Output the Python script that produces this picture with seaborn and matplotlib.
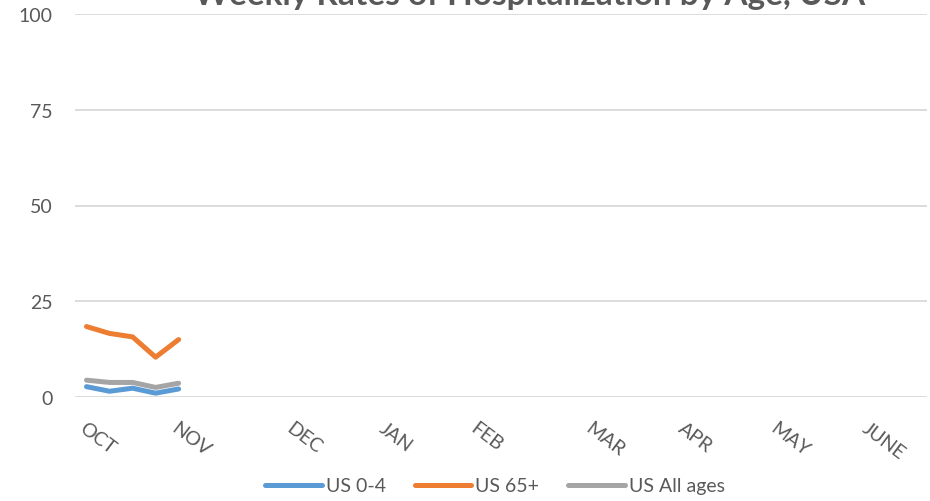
import pandas as pd
import matplotlib
matplotlib.use('Agg')
import matplotlib.pyplot as plt
import seaborn as sns

# weekly rates, first five weeks of the season (Oct -> early Nov)
weeks = [0, 1, 2, 3, 4]
us_0_4 = [2.7, 1.5, 2.3, 1.0, 2.1]
us_65_plus = [18.4, 16.6, 15.7, 10.4, 15.0]
us_all_ages = [4.4, 3.8, 3.8, 2.5, 3.6]
series_names = ['US 0-4', 'US 65+', 'US All ages']

# month labels on the weekly category axis
month_labels = ['OCT', 'NOV', 'DEC', 'JAN', 'FEB', 'MAR', 'APR', 'MAY', 'JUNE']
month_weeks = [0, 4, 9, 13, 17, 22, 26, 30, 34]
n_weeks = 37

df = pd.DataFrame({
    'week': weeks * 3,
    'rate': us_0_4 + us_65_plus + us_all_ages,
    'series': [s for s in series_names for _ in weeks],
})

sns.set_style('white')
plt.rcParams['font.family'] = ['Lato', 'DejaVu Sans']
text_gray = '#595959'

fig = plt.figure(figsize=(9.3, 5.02), dpi=100)
ax = fig.add_axes([75 / 930, 1 - 398 / 502, 852 / 930, 383 / 502])

sns.lineplot(data=df, x='week', y='rate', hue='series', hue_order=series_names,
             palette=['#5B9BD5', '#ED7D31', '#A5A5A5'], linewidth=3.6,
             solid_capstyle='round', ax=ax)

ax.set_xlim(-0.5, n_weeks - 0.5)
ax.set_ylim(0, 100)
ax.set_yticks([0, 25, 50, 75, 100])
ax.yaxis.grid(True, color='#D9D9D9', linewidth=1.3)
ax.set_axisbelow(True)
for s in ax.spines.values():
    s.set_visible(False)
ax.set_xlabel('')
ax.set_ylabel('')
ax.tick_params(axis='y', length=0, pad=16, labelsize=14, labelcolor=text_gray)
ax.set_xticks(month_weeks)
ax.set_xticklabels(month_labels, rotation=-37, ha='left', va='top',
                   rotation_mode='anchor')
ax.tick_params(axis='x', length=0, pad=16, labelsize=14, labelcolor=text_gray)

sns.move_legend(ax, 'center', bbox_to_anchor=(495 / 930, 15 / 502),
                bbox_transform=fig.transFigure, ncol=3, frameon=False,
                title=None, fontsize=14, handlelength=2.9, handletextpad=0.2,
                columnspacing=1.5)
for t in ax.get_legend().get_texts():
    t.set_color(text_gray)

# title sits mostly above the canvas, as in the original
fig.text(530 / 930, 1 - 5 / 502, 'Weekly Rates of Hospitalization by Age, USA',
         ha='center', va='baseline', fontsize=24, fontweight='bold', color=text_gray)

fig.savefig('out.png', dpi=100)
